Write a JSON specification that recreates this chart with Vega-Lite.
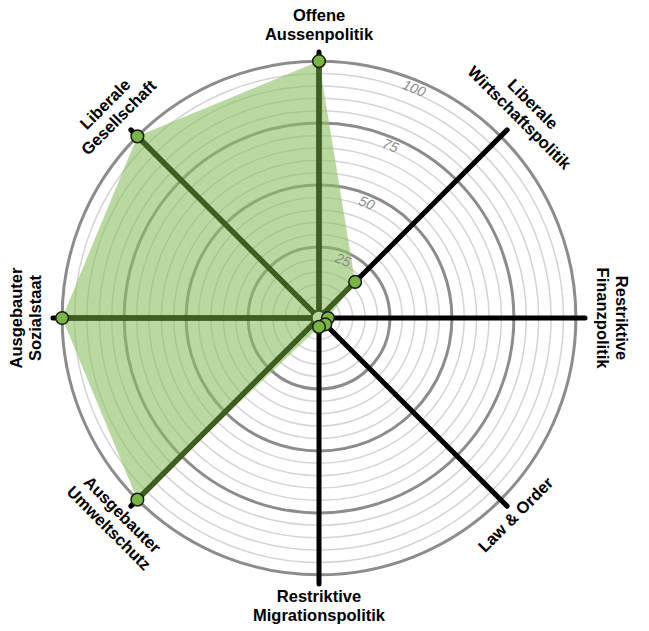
{
  "$schema": "https://vega.github.io/schema/vega-lite/v6.json",
  "width": 600,
  "height": 600,
  "autosize": {"type": "none"},
  "padding": {"left": 19, "top": 18, "right": 30, "bottom": 13},
  "background": "white",
  "config": {"view": {"stroke": null}},
  "datasets": {
    "axes": [
      {"idx": 0, "label": "Offene\nAussenpolitik", "value": 100},
      {"idx": 1, "label": "Liberale\nWirtschaftspolitik", "value": 17},
      {"idx": 2, "label": "Restriktive\nFinanzpolitik", "value": 0},
      {"idx": 3, "label": "Law & Order", "value": 0},
      {"idx": 4, "label": "Restriktive\nMigrationspolitik", "value": 0},
      {"idx": 5, "label": "Ausgebauter\nUmweltschutz", "value": 100},
      {"idx": 6, "label": "Ausgebauter\nSozialstaat", "value": 100},
      {"idx": 7, "label": "Liberale\nGesellschaft", "value": 100}
    ],
    "rings": [
      {"level": 5}, {"level": 10}, {"level": 15}, {"level": 20}, {"level": 25},
      {"level": 30}, {"level": 35}, {"level": 40}, {"level": 45}, {"level": 50},
      {"level": 55}, {"level": 60}, {"level": 65}, {"level": 70}, {"level": 75},
      {"level": 80}, {"level": 85}, {"level": 90}, {"level": 95}, {"level": 100}
    ]
  },
  "layer": [
    {
      "data": {"name": "rings"},
      "transform": [
        {"filter": "datum.level % 25 != 0"},
        {"calculate": "datum.level + 3.6", "as": "rr"},
        {"calculate": "0", "as": "zx"}
      ],
      "mark": {"type": "point", "shape": "circle", "filled": false, "stroke": "#d4d4d4", "strokeWidth": 1.5, "opacity": 1},
      "encoding": {
        "x": {"field": "zx", "type": "quantitative", "scale": {"domain": [-121, 121], "nice": false, "zero": false}, "axis": null},
        "y": {"field": "zx", "type": "quantitative", "scale": {"domain": [-121, 121], "nice": false, "zero": false}, "axis": null},
        "size": {"field": "rr", "type": "quantitative", "scale": {"type": "pow", "exponent": 2, "domain": [0, 121], "range": [0, 360000], "zero": true}, "legend": null}
      }
    },
    {
      "data": {"name": "rings"},
      "transform": [
        {"filter": "datum.level % 25 == 0"},
        {"calculate": "datum.level + 3.6", "as": "rr"},
        {"calculate": "0", "as": "zx"}
      ],
      "mark": {"type": "point", "shape": "circle", "filled": false, "stroke": "#8c8c8c", "strokeWidth": 3, "opacity": 1},
      "encoding": {
        "x": {"field": "zx", "type": "quantitative", "scale": {"domain": [-121, 121], "nice": false, "zero": false}, "axis": null},
        "y": {"field": "zx", "type": "quantitative", "scale": {"domain": [-121, 121], "nice": false, "zero": false}, "axis": null},
        "size": {"field": "rr", "type": "quantitative", "scale": {"type": "pow", "exponent": 2, "domain": [0, 121], "range": [0, 360000], "zero": true}, "legend": null}
      }
    },
    {
      "data": {"name": "axes"},
      "transform": [
        {"calculate": "datum.idx * PI / 4", "as": "rad"},
        {"calculate": "(datum.value + 3.6) * sin(datum.rad)", "as": "px"},
        {"calculate": "(datum.value + 3.6) * cos(datum.rad)", "as": "py"}
      ],
      "mark": {"type": "line", "interpolate": "linear-closed", "fill": "#8cc063", "fillOpacity": 0.6, "strokeWidth": 0, "strokeOpacity": 0},
      "encoding": {
        "x": {"field": "px", "type": "quantitative", "scale": {"domain": [-121, 121], "nice": false, "zero": false}, "axis": null},
        "y": {"field": "py", "type": "quantitative", "scale": {"domain": [-121, 121], "nice": false, "zero": false}, "axis": null},
        "order": {"field": "idx", "type": "quantitative"}
      }
    },
    {
      "data": {"name": "axes"},
      "transform": [
        {"calculate": "datum.idx * PI / 4", "as": "rad"},
        {"calculate": "107.3 * sin(datum.rad)", "as": "ex"},
        {"calculate": "107.3 * cos(datum.rad)", "as": "ey"},
        {"calculate": "0", "as": "zx"}
      ],
      "mark": {"type": "rule", "color": "#000000", "strokeWidth": 5, "strokeCap": "round"},
      "encoding": {
        "x": {"field": "ex", "type": "quantitative", "scale": {"domain": [-121, 121], "nice": false, "zero": false}, "axis": null},
        "y": {"field": "ey", "type": "quantitative", "scale": {"domain": [-121, 121], "nice": false, "zero": false}, "axis": null},
        "x2": {"field": "zx"},
        "y2": {"field": "zx"}
      }
    },
    {
      "data": {"name": "axes"},
      "transform": [
        {"calculate": "datum.idx * PI / 4", "as": "rad"},
        {"calculate": "(datum.value + 3.6) * sin(datum.rad)", "as": "px"},
        {"calculate": "(datum.value + 3.6) * cos(datum.rad)", "as": "py"},
        {"calculate": "0", "as": "zx"}
      ],
      "mark": {"type": "rule", "color": "#3f5f1f", "strokeWidth": 5},
      "encoding": {
        "x": {"field": "px", "type": "quantitative", "scale": {"domain": [-121, 121], "nice": false, "zero": false}, "axis": null},
        "y": {"field": "py", "type": "quantitative", "scale": {"domain": [-121, 121], "nice": false, "zero": false}, "axis": null},
        "x2": {"field": "zx"},
        "y2": {"field": "zx"}
      }
    },
    {
      "data": {"name": "axes"},
      "transform": [
        {"filter": "datum.idx == 0"},
        {"calculate": "0", "as": "zx"}
      ],
      "mark": {"type": "point", "shape": "circle", "filled": true, "fill": "#b6d89c", "stroke": "#3f5f1f", "strokeWidth": 2.5, "size": 225, "opacity": 1},
      "encoding": {
        "x": {"field": "zx", "type": "quantitative", "scale": {"domain": [-121, 121], "nice": false, "zero": false}, "axis": null},
        "y": {"field": "zx", "type": "quantitative", "scale": {"domain": [-121, 121], "nice": false, "zero": false}, "axis": null}
      }
    },
    {
      "data": {"name": "axes"},
      "transform": [
        {"calculate": "datum.idx * PI / 4", "as": "rad"},
        {"calculate": "(datum.value + 3.6) * sin(datum.rad)", "as": "px"},
        {"calculate": "(datum.value + 3.6) * cos(datum.rad)", "as": "py"}
      ],
      "mark": {"type": "point", "shape": "circle", "filled": true, "fill": "#79b545", "stroke": "#1a1a1a", "strokeWidth": 1.5, "size": 160, "opacity": 1},
      "encoding": {
        "x": {"field": "px", "type": "quantitative", "scale": {"domain": [-121, 121], "nice": false, "zero": false}, "axis": null},
        "y": {"field": "py", "type": "quantitative", "scale": {"domain": [-121, 121], "nice": false, "zero": false}, "axis": null}
      }
    },
    {
      "data": {"name": "rings"},
      "transform": [
        {"filter": "datum.level % 25 == 0"},
        {"calculate": "datum.level * sin(PI / 8)", "as": "sx"},
        {"calculate": "datum.level * cos(PI / 8)", "as": "sy"}
      ],
      "mark": {"type": "text", "angle": 22.5, "font": "Liberation Sans", "fontStyle": "italic", "fontSize": 14, "color": "#8a8a8a", "align": "center", "baseline": "middle"},
      "encoding": {
        "x": {"field": "sx", "type": "quantitative", "scale": {"domain": [-121, 121], "nice": false, "zero": false}, "axis": null},
        "y": {"field": "sy", "type": "quantitative", "scale": {"domain": [-121, 121], "nice": false, "zero": false}, "axis": null},
        "text": {"field": "level", "type": "quantitative"}
      }
    },
    {
      "data": {"name": "axes"},
      "transform": [
        {"calculate": "datum.idx * 45", "as": "deg"},
        {"filter": "datum.deg <= 90 || datum.deg >= 270"},
        {"calculate": "datum.idx * PI / 4", "as": "rad"},
        {"calculate": "110.8 * sin(datum.rad)", "as": "lx"},
        {"calculate": "110.8 * cos(datum.rad)", "as": "ly"}
      ],
      "mark": {"type": "text", "font": "Liberation Sans", "fontWeight": "bold", "fontSize": 16.5, "lineHeight": 19, "dy": -19, "lineBreak": "\n", "color": "#000000", "align": "center", "baseline": "bottom"},
      "encoding": {
        "x": {"field": "lx", "type": "quantitative", "scale": {"domain": [-121, 121], "nice": false, "zero": false}, "axis": null},
        "y": {"field": "ly", "type": "quantitative", "scale": {"domain": [-121, 121], "nice": false, "zero": false}, "axis": null},
        "angle": {"field": "deg", "type": "quantitative", "scale": {"domain": [0, 360], "range": [0, 360]}, "legend": null},
        "text": {"field": "label", "type": "nominal"}
      }
    },
    {
      "data": {"name": "axes"},
      "transform": [
        {"calculate": "datum.idx * 45", "as": "deg"},
        {"filter": "datum.deg > 90 && datum.deg < 270"},
        {"calculate": "datum.deg - 180", "as": "ang"},
        {"calculate": "datum.idx * PI / 4", "as": "rad"},
        {"calculate": "109.2 * sin(datum.rad)", "as": "lx"},
        {"calculate": "109.2 * cos(datum.rad)", "as": "ly"}
      ],
      "mark": {"type": "text", "font": "Liberation Sans", "fontWeight": "bold", "fontSize": 16.5, "lineHeight": 19, "lineBreak": "\n", "color": "#000000", "align": "center", "baseline": "top"},
      "encoding": {
        "x": {"field": "lx", "type": "quantitative", "scale": {"domain": [-121, 121], "nice": false, "zero": false}, "axis": null},
        "y": {"field": "ly", "type": "quantitative", "scale": {"domain": [-121, 121], "nice": false, "zero": false}, "axis": null},
        "angle": {"field": "ang", "type": "quantitative", "scale": {"domain": [0, 360], "range": [0, 360]}, "legend": null},
        "text": {"field": "label", "type": "nominal"}
      }
    }
  ]
}
